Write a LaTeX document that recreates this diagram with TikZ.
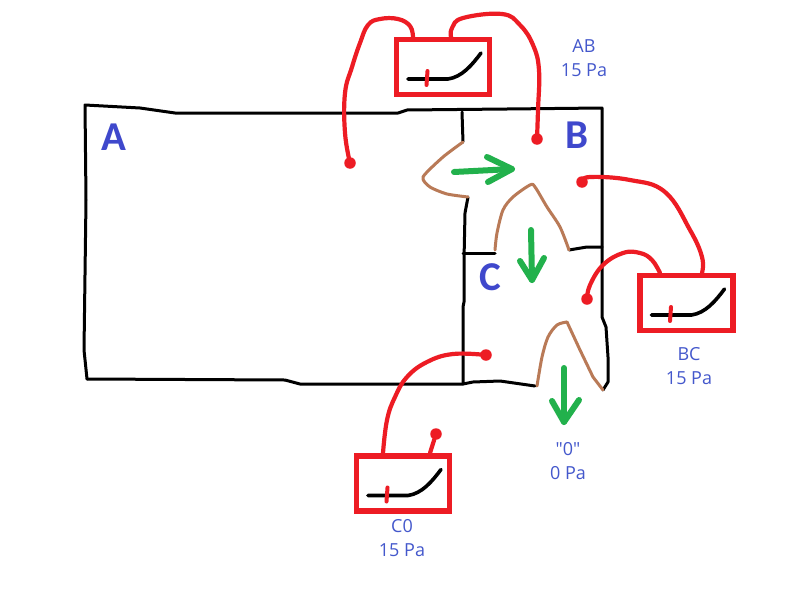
\documentclass[tikz,border=0pt]{standalone}
\usepackage{fontspec}
\newfontfamily\labelfont{Open Sans}
\newfontfamily\letterfont{Carlito}
\definecolor{pred}{HTML}{ED1C24}
\definecolor{pgreen}{HTML}{22B14C}
\definecolor{pbrown}{HTML}{B97A57}
\definecolor{pblue}{HTML}{3F48CC}
\definecolor{ptext}{HTML}{4458CC}
\tikzset{
  wall/.style={draw=black,line width=3pt,line join=round,line cap=round},
  leak/.style={draw=pbrown,line width=3pt,line join=round,line cap=round},
  flow/.style={draw=pgreen,line width=6pt,line join=round,line cap=round},
  hose/.style={draw=pred,line width=4.2pt,line join=round,line cap=round},
  gauge/.style={draw=pred,line width=5.4pt,fill=white,minimum width=93pt,minimum height=55pt,inner sep=0pt,outer sep=0pt},
  probe/.style={circle,fill=pred,minimum size=11.5pt,inner sep=0pt},
  needle/.style={draw=black,line width=3.6pt,line cap=round},
  tick/.style={draw=pred,line width=4pt,line cap=round},
  zone/.style={text=pblue,font=\letterfont\bfseries\fontsize{41}{41}\selectfont,inner sep=0pt},
  lbl/.style={text=ptext,font=\labelfont\fontsize{18}{24}\selectfont,align=center,inner sep=0pt}
}
\begin{document}
\begin{tikzpicture}[x=1pt,y=-1pt]
\useasboundingbox (0,0) rectangle (800,589);
\fill[white] (0,0) rectangle (800,589);
% walls
\draw[wall] (463,142) -- (462,112);
\draw[wall] (87,379) -- (84,350) -- (86,200) -- (85,105) -- (140,108) -- (175,113) -- (398,113) -- (407,110) -- (507,109) -- (602,108) -- (602,157) -- (602,247) -- (602,317) -- (606,327) -- (608,357) -- (608,382) -- (603,390);
\draw[wall] (87,379) -- (285,380) -- (300,384) -- (463,384) -- (473,382) -- (500,381) -- (535,386);
\draw[wall] (468,197) -- (465,213) -- (464,260) -- (464,302) -- (463,307) -- (463,384);
\draw[wall] (463,253) -- (495,253);
\draw[wall] (569,250) -- (587,247) -- (602,247);
% leaks
\draw[leak] plot[smooth,tension=.4] coordinates {(463,142) (443,157) (423,177) (430,187) (447,194) (468,197)};
\draw[leak] plot[smooth,tension=.5] coordinates {(495,250) (497,233) (503,210) (513,197) (530,185) (535,187) (547,207) (560,227) (569,250)};
\draw[leak] plot[smooth,tension=.5] coordinates {(537,386) (542,357) (548,337) (557,325) (567,322)};
\draw[leak] (567,322) -- (580,350) -- (593,377) -- (603,390);
% flow arrows
\draw[flow] (454,172) -- (512,169);
\draw[flow] (487,157) -- (512,169) -- (488,182);
\draw[flow] (531,230) -- (532,280);
\draw[flow] (520,261) -- (532,280) -- (544,258);
\draw[flow] (564,368) -- (564,422);
\draw[flow] (552,401) -- (564,422) -- (579,400);
% gauges
\node[gauge] (gab) at (443,67) {};
\node[gauge] (gbc) at (686.5,303) {};
\node[gauge] (gc) at (403,483.5) {};
\foreach \g in {gab,gbc,gc}{
  \draw[needle] (\g.center) ++(-35,12) -- ++(40,0) .. controls +(14,-2) and +(-9,12) .. ++(33,-26);
  \draw[tick] (\g.center) ++(-15.5,4) -- ++(-1,14);
}
% probes
\node[probe] (pa) at (350,163) {};
\node[probe] (pb1) at (537,139) {};
\node[probe] (pb2) at (582,182) {};
\node[probe] (pc1) at (587,299) {};
\node[probe] (pc2) at (486,355) {};
\node[probe] (p0) at (436,434) {};
\coordinate (gabl) at (413,37);
\coordinate (gabr) at (451,37);
\coordinate (gbcl) at (660,273);
\coordinate (gbcr) at (702,273);
\coordinate (gcl) at (383,453);
\coordinate (gcr) at (430,453);
% hoses
\draw[hose] plot[smooth,tension=.7] coordinates {(pa) (345,133) (345,93) (352,67) (360,43) (368,25) (380,19) (398,19) (410,26) (gabl)};
\draw[hose] plot[smooth,tension=.7] coordinates {(gabr) (452,28) (463,18) (502,14) (520,25) (533,45) (539,70) (538,110) (pb1)};
\draw[hose] plot[smooth,tension=.7] coordinates {(pb2) (590,177) (630,180) (665,192) (690,230) (702,257) (gbcr)};
\draw[hose] plot[smooth,tension=.7] coordinates {(pc1) (590,285) (603,265) (623,253) (640,253) (652,260) (gbcl)};
\draw[hose] plot[smooth,tension=.7] coordinates {(gcl) (387,420) (395,397) (407,377) (427,362) (453,354) (pc2)};
\draw[hose] (gcr) -- (p0);
% labels
\node[zone] (la) at (114,137) {A};
\node[zone] (lb) at (577,135) {B};
\node[zone] (lc) at (490,277) {C};
\node[lbl] (tab) at (584,58) {AB\\15 Pa};
\node[lbl] (tbc) at (689,366) {BC\\15 Pa};
\node[lbl] (t0) at (568,461) {"0"\\0 Pa};
\node[lbl] (tc) at (402,538) {C0\\15 Pa};
\end{tikzpicture}
\end{document}
